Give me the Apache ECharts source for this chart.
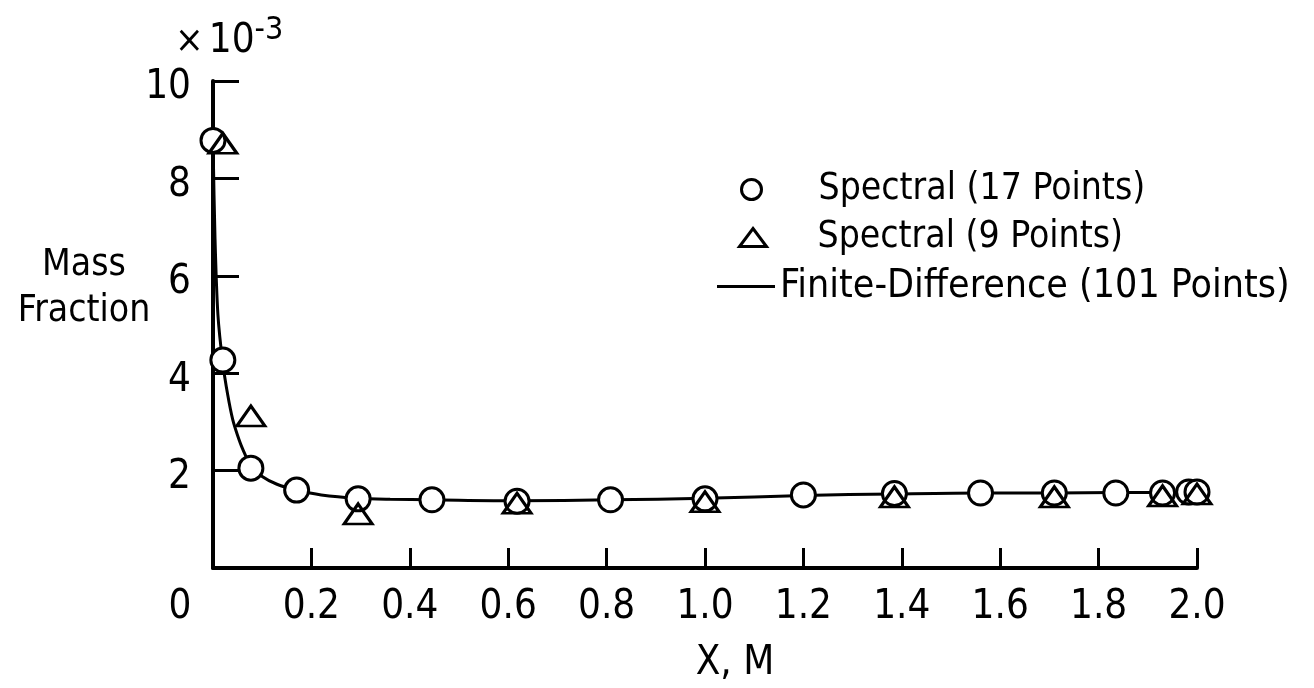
<!DOCTYPE html>
<html>
<head>
<meta charset="utf-8">
<script src="https://cdn.jsdelivr.net/npm/echarts@6/dist/echarts.min.js"></script>
<style>
  html, body { margin: 0; padding: 0; background: #fff; overflow: hidden; }
  #chart { width: 1314px; height: 688px; }
</style>
</head>
<body>
<div id="chart"></div>
<script>
// Spectral solution, 17 collocation points
const spec17X = [0, 0.02, 0.077, 0.17, 0.295, 0.445, 0.618, 0.808, 1.0, 1.2, 1.385, 1.56, 1.71, 1.835, 1.93, 1.983, 2.0];
const spec17Y = [8.78, 4.27, 2.05, 1.6, 1.42, 1.40, 1.37, 1.40, 1.42, 1.50, 1.53, 1.54, 1.54, 1.54, 1.54, 1.56, 1.56];

// Spectral solution, 9 collocation points
const spec9X = [0.02, 0.077, 0.295, 0.618, 1.0, 1.385, 1.71, 1.93, 2.0];
const spec9Y = [8.72, 3.12, 1.11, 1.33, 1.36, 1.46, 1.46, 1.48, 1.52];

// Finite-difference curve
const fdX = [0, 0.004, 0.01, 0.02, 0.03, 0.04, 0.05, 0.06, 0.077, 0.1, 0.13, 0.17, 0.22, 0.295, 0.36, 0.445, 0.618, 0.808, 1.0, 1.2, 1.385, 1.56, 1.71, 1.835, 1.93, 2.0];
const fdY = [8.8, 6.8, 5.2, 4.2, 3.55, 3.05, 2.72, 2.45, 2.1, 1.88, 1.72, 1.6, 1.5, 1.43, 1.41, 1.40, 1.38, 1.40, 1.43, 1.49, 1.52, 1.54, 1.54, 1.55, 1.55, 1.56];

const seriesNames = ["Spectral (17 Points)", "Spectral (9 Points)", "Finite-Difference (101 Points)"];

const FONT = "'Liberation Sans Narrow', 'DejaVu Sans Condensed', sans-serif";
const INK = "#000";

const zip = (xs, ys) => xs.map((x, i) => [x, ys[i]]);

const chart = echarts.init(document.getElementById("chart"), null, { renderer: "canvas" });

const legendText = { fontFamily: FONT, fontSize: 37, color: INK };

const option = {
  backgroundColor: "#fff",
  animation: false,
  textStyle: { fontFamily: FONT, color: INK },
  grid: { left: 213, right: 117, top: 81, bottom: 120, outerBoundsMode: "none", containLabel: false },
  title: {
    left: 170,
    top: 10,
    text: "{a|×} {b|10}{c|-3}",
    textStyle: {
      fontWeight: "normal",
      rich: {
        a: { fontFamily: FONT, fontSize: 38, fontWeight: "normal", color: INK },
        b: { fontFamily: FONT, fontSize: 40, fontWeight: "normal", color: INK },
        c: { fontFamily: FONT, fontSize: 32, fontWeight: "normal", color: INK, padding: [0, 0, 22, 0] },
      },
    },
  },
  graphic: [
    {
      type: "text",
      x: 84,
      y: 288,
      style: {
        text: "Mass\nFraction",
        font: "37px " + FONT,
        fill: INK,
        textAlign: "center",
        textVerticalAlign: "middle",
        lineHeight: 46,
      },
    },
  ],
  legend: [
    {
      data: [{ name: seriesNames[0], icon: "circle" }],
      left: 735,
      top: 166,
      itemWidth: 20,
      itemHeight: 20,
      itemStyle: { color: "#fff", borderColor: INK, borderWidth: 3 },
      textStyle: Object.assign({ padding: [0, 0, 0, 52] }, legendText),
      selectedMode: false,
    },
    {
      data: [{ name: seriesNames[1], icon: "triangle" }],
      left: 733,
      top: 214,
      itemWidth: 27,
      itemHeight: 18,
      itemStyle: { color: "#fff", borderColor: INK, borderWidth: 3 },
      textStyle: Object.assign({ padding: [0, 0, 0, 46] }, legendText),
      selectedMode: false,
    },
    {
      data: [{ name: seriesNames[2], icon: "rect" }],
      left: 712,
      top: 262,
      itemWidth: 58,
      itemHeight: 3,
      itemStyle: { color: INK, borderWidth: 0 },
      textStyle: Object.assign({}, legendText, { fontSize: 39, padding: [0, 0, 0, 0] }),
      selectedMode: false,
    },
  ],
  xAxis: {
    type: "value",
    min: 0,
    max: 2,
    interval: 0.2,
    name: "{n|X, M}",
    nameLocation: "middle",
    nameGap: 76,
    nameTextStyle: {
      rich: { n: { fontFamily: FONT, fontSize: 40, color: INK, padding: [0, 0, 0, 60] } },
    },
    axisLine: { show: true, lineStyle: { color: INK, width: 4 } },
    axisTick: { show: true, inside: true, length: 20, lineStyle: { color: INK, width: 3 } },
    splitLine: { show: false },
    axisLabel: {
      margin: 20,
      fontFamily: FONT,
      fontSize: 40,
      color: INK,
      formatter: (v) => (v === 0 ? "{z|0}" : v.toFixed(1)),
      rich: { z: { fontFamily: FONT, fontSize: 40, color: INK, padding: [0, 66, 0, 0] } },
    },
  },
  yAxis: {
    type: "value",
    min: 0,
    max: 10,
    interval: 2,
    axisLine: { show: true, lineStyle: { color: INK, width: 4 } },
    axisTick: { show: true, inside: true, length: 26, lineStyle: { color: INK, width: 3 } },
    splitLine: { show: false },
    axisLabel: {
      margin: 22,
      fontFamily: FONT,
      fontSize: 40,
      color: INK,
      formatter: (v) => (v === 0 ? "" : "{v|" + v + "}"),
      rich: { v: { fontFamily: FONT, fontSize: 40, color: INK, padding: [14, 0, 0, 0] } },
    },
  },
  series: [
    {
      name: seriesNames[2],
      type: "line",
      data: zip(fdX, fdY),
      symbol: "none",
      smooth: 0.3,
      lineStyle: { color: INK, width: 3 },
      itemStyle: { color: INK },
      z: 2,
    },
    {
      name: seriesNames[0],
      type: "scatter",
      data: zip(spec17X, spec17Y),
      symbol: "circle",
      symbolSize: 24,
      itemStyle: { color: "#fff", borderColor: INK, borderWidth: 3, opacity: 1 },
      z: 3,
    },
    {
      name: seriesNames[1],
      type: "scatter",
      data: zip(spec9X, spec9Y),
      symbol: "triangle",
      symbolSize: [28, 20],
      itemStyle: { color: "rgba(255,255,255,0)", borderColor: INK, borderWidth: 3, opacity: 1 },
      z: 4,
    },
  ],
};

chart.setOption(option);
</script>
</body>
</html>
